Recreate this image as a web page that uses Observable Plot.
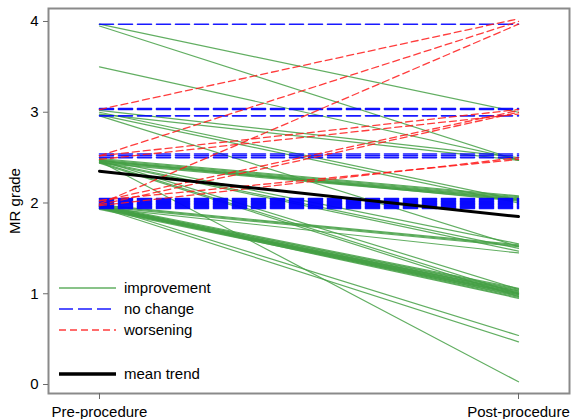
<!DOCTYPE html>
<html>
<head>
<meta charset="utf-8">
<script src="https://cdn.jsdelivr.net/npm/d3@7"></script>
<script src="https://cdn.jsdelivr.net/npm/@observablehq/plot@0.6"></script>
<style>
  html, body { margin: 0; padding: 0; background: white; }
  #chart { width: 571px; height: 419px; }
</style>
</head>
<body>
<div id="chart"></div>
<script>
// Time points (x) and their labels
const timeLabels = ["Pre-procedure", "Post-procedure"];
const yTicks = [0, 1, 2, 3, 4];

// Improvement (green): pre / post MR grade (jittered as in the picture)
const improvementPre = [
  3.97, 3.95, 3.50,
  3.02, 2.98, 3.00, 2.97, 2.96,
  2.49, 2.48, 2.47, 2.46, 2.46, 2.45, 2.44, 2.47,
  2.48, 2.46, 2.45,
  2.47, 2.45, 2.44,
  2.46,
  1.98, 1.97, 1.96, 1.95,
  1.98, 1.97, 1.97, 1.96, 1.96, 1.95, 1.95, 1.94, 1.94, 1.93, 1.97, 1.96, 1.95, 1.94, 1.96, 1.95,
  1.97, 1.95
];
const improvementPost = [
  3.00, 2.47, 2.48,
  2.50, 2.47, 2.03, 2.00, 1.52,
  2.08, 2.07, 2.06, 2.05, 2.04, 2.04, 2.03, 2.02,
  1.55, 1.50, 1.47,
  1.05, 1.00, 0.97,
  0.03,
  1.54, 1.53, 1.52, 1.45,
  1.06, 1.05, 1.04, 1.03, 1.02, 1.01, 1.00, 1.00, 0.99, 0.98, 0.97, 0.96, 0.95, 1.03, 1.01, 0.99,
  0.54, 0.47
];

// No change (blue)
const noChangePre  = [3.97, 3.04, 3.03, 2.96, 2.54, 2.52, 2.50, 2.05, 2.04, 2.03, 2.02, 2.01, 2.00, 1.99, 1.98, 1.97, 1.96, 1.95, 1.94];
const noChangePost = [3.97, 3.04, 3.03, 2.96, 2.54, 2.52, 2.50, 2.05, 2.04, 2.03, 2.02, 2.01, 2.00, 1.99, 1.98, 1.97, 1.96, 1.95, 1.94];

// Worsening (red)
const worseningPre  = [3.03, 2.52, 1.99, 2.52, 2.48, 2.02, 1.98, 2.03, 1.97];
const worseningPost = [4.03, 4.00, 3.97, 3.03, 2.98, 3.02, 3.00, 2.48, 2.50];

// Mean trend (black)
const meanPre = [2.35];
const meanPost = [1.85];

const legendItems = ["improvement", "no change", "worsening", "mean trend"];

function rows(pre, post, group) {
  const out = [];
  pre.forEach((v, i) => {
    out.push({id: group + i, t: 0, v: v});
    out.push({id: group + i, t: 1, v: post[i]});
  });
  return out;
}

const green = "#45a045";
const blue = "#0000ff";
const red = "#ff1a1a";
const font = "'Liberation Sans', Arial, sans-serif";

const chart = Plot.plot({
  width: 571,
  height: 419,
  marginLeft: 48,
  marginRight: 2,
  marginTop: 8,
  marginBottom: 26,
  style: {fontFamily: font, fontSize: "15px", color: "#000", background: "white"},
  x: {domain: [-0.1217, 1.1217]},
  y: {domain: [-0.099, 4.143]},
  marks: [
    Plot.line(rows(improvementPre, improvementPost, "g"), {x: "t", y: "v", z: "id", stroke: green, strokeWidth: 1.2, strokeOpacity: 0.85}),
    Plot.line(rows(noChangePre, noChangePost, "b"), {x: "t", y: "v", z: "id", stroke: blue, strokeWidth: 1.6, strokeDasharray: "14,5", strokeOpacity: 0.9}),
    Plot.line(rows(worseningPre, worseningPost, "r"), {x: "t", y: "v", z: "id", stroke: red, strokeWidth: 1.3, strokeDasharray: "7,4", strokeOpacity: 0.85}),
    Plot.line(rows(meanPre, meanPost, "m"), {x: "t", y: "v", z: "id", stroke: "black", strokeWidth: 3}),
    Plot.frame({stroke: "#8a8a8a", strokeWidth: 2}),
    Plot.axisY({ticks: yTicks, tickFormat: "d", tickSize: 5, tickPadding: 5, label: null, stroke: "#6a6a6a", fontSize: 15}),
    Plot.axisX({ticks: [0, 1], tickFormat: i => timeLabels[i], tickSize: 6, tickPadding: 7, label: null, stroke: "#6a6a6a", fontSize: 15})
  ]
});

document.getElementById("chart").appendChild(chart);

// Y axis title and legend (layout only)
const svg = d3.select(chart);
svg.append("text")
  .attr("transform", "translate(20,201) rotate(-90)")
  .attr("text-anchor", "middle")
  .style("font-family", font)
  .style("font-size", "15px")
  .attr("fill", "#000")
  .text("MR grade");

const legendStyles = [
  {stroke: green, width: 1.3, dash: null, op: 0.85},
  {stroke: blue, width: 1.6, dash: "14,5", op: 0.9},
  {stroke: red, width: 1.3, dash: "7,4", op: 0.85},
  {stroke: "black", width: 3.5, dash: null, op: 1}
];
const legendY = [288, 309, 330, 374];
const lg = svg.append("g");
legendItems.forEach((name, i) => {
  const s = legendStyles[i];
  lg.append("line")
    .attr("x1", 59).attr("x2", 116)
    .attr("y1", legendY[i]).attr("y2", legendY[i])
    .attr("stroke", s.stroke).attr("stroke-width", s.width)
    .attr("stroke-opacity", s.op)
    .attr("stroke-dasharray", s.dash);
  lg.append("text")
    .attr("x", 124).attr("y", legendY[i])
    .attr("dy", "0.35em")
    .attr("text-anchor", "start")
    .style("font-family", font)
    .style("font-size", "15px")
    .attr("fill", "#000")
    .text(name);
});
</script>
</body>
</html>
